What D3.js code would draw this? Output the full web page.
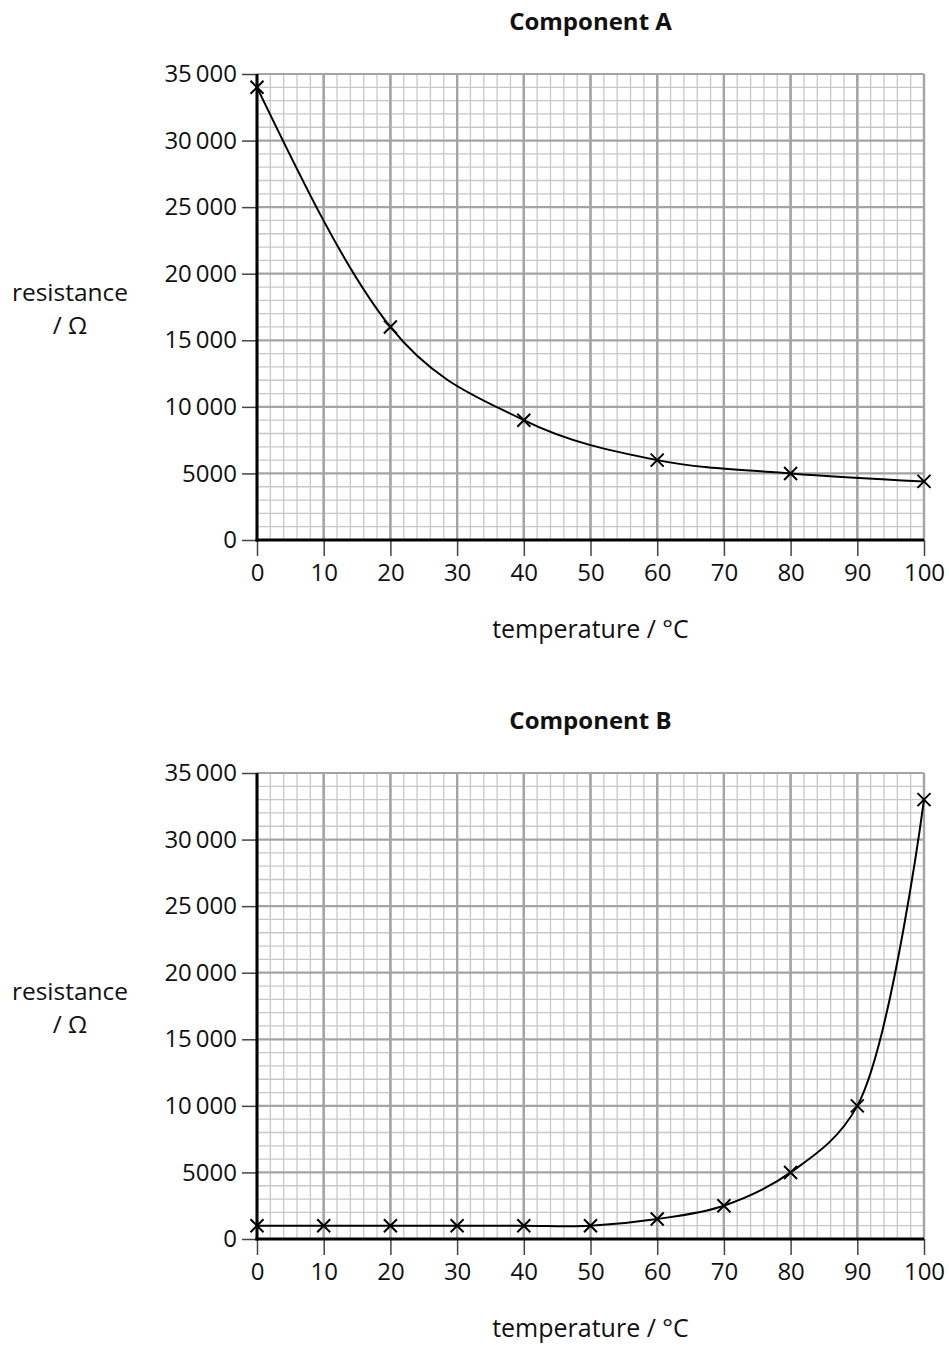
<!DOCTYPE html>
<html>
<head>
<meta charset="utf-8">
<script src="https://cdn.jsdelivr.net/npm/d3@7"></script>
<style>
  body { margin: 0; background: #fff; }
  svg text { font-family: "Open Sans", "Noto Sans", sans-serif; fill: #111; }
</style>
</head>
<body>
<div id="chart"></div>
<script>
// temperatures and resistances
const tempA = [0, 20, 40, 60, 80, 100];
const resA = [34000, 16000, 9000, 6000, 5000, 4400];

const tempB = [0, 10, 20, 30, 40, 50, 60, 70, 80, 90, 100];
const resB = [1000, 1000, 1000, 1000, 1000, 1000, 1500, 2500, 5000, 10000, 33000];

const xTicks = [0, 10, 20, 30, 40, 50, 60, 70, 80, 90, 100];
const yTicks = [0, 5000, 10000, 15000, 20000, 25000, 30000, 35000];

const W = 949, H = 1345;
const margin = { left: 257, right: 25 };
const plotH = 466;

const svg = d3.select("#chart")
    .append("svg")
    .attr("width", W)
    .attr("height", H);

const x = d3.scaleLinear()
    .domain([0, 100])
    .range([margin.left, W - margin.right]);

// space in thousands like the printed paper
const fmt = v => v >= 10000 ? d3.format("d")(v).replace(/(\d{3})$/, "\u2006$1") : String(v);

function drawPanel(top, title, temps, res, curve) {
    const g = svg.append("g");
    const y = d3.scaleLinear()
        .domain([0, 35000])
        .range([top + plotH, top]);

    // graph paper: minor lines then major lines
    const grid = g.append("g");
    grid.selectAll(".vmin")
        .data(d3.range(0, 101, 2))
        .enter().append("line")
        .attr("x1", d => x(d)).attr("x2", d => x(d))
        .attr("y1", y(0)).attr("y2", y(35000))
        .attr("stroke", d => d % 10 === 0 ? "#a4a4a4" : "#c8c8c8")
        .attr("stroke-width", d => d % 10 === 0 ? 2.2 : 1.3);

    grid.selectAll(".hmin")
        .data(d3.range(0, 35001, 1000))
        .enter().append("line")
        .attr("x1", x(0)).attr("x2", x(100))
        .attr("y1", d => y(d)).attr("y2", d => y(d))
        .attr("stroke", d => d % 5000 === 0 ? "#a4a4a4" : "#c8c8c8")
        .attr("stroke-width", d => d % 5000 === 0 ? 2.2 : 1.3);

    // redraw majors on top so they stay darker
    grid.selectAll(".vmaj")
        .data(xTicks)
        .enter().append("line")
        .attr("x1", d => x(d)).attr("x2", d => x(d))
        .attr("y1", y(0)).attr("y2", y(35000))
        .attr("stroke", "#a4a4a4")
        .attr("stroke-width", 2.2);

    // axes
    const xAxis = g.append("g")
        .attr("transform", `translate(0,${y(0)})`)
        .call(d3.axisBottom(x).tickValues(xTicks).tickSize(16).tickPadding(8));
    xAxis.select(".domain").remove();
    xAxis.selectAll("line").attr("stroke", "#444").attr("stroke-width", 1.5);
    xAxis.selectAll("text")
        .style("font-size", "24px")
        .attr("fill", "#111");

    const yAxis = g.append("g")
        .attr("transform", `translate(${x(0)},0)`)
        .call(d3.axisLeft(y).tickValues(yTicks).tickSize(15).tickPadding(5).tickFormat(fmt));
    yAxis.select(".domain").remove();
    yAxis.selectAll("line").attr("stroke", "#444").attr("stroke-width", 1.5);
    yAxis.selectAll("text")
        .style("font-size", "24px")
        .attr("fill", "#111");

    g.append("line")
        .attr("x1", x(0)).attr("x2", x(0))
        .attr("y1", y(35000)).attr("y2", y(0) + 1.5)
        .attr("stroke", "#000").attr("stroke-width", 3);
    g.append("line")
        .attr("x1", x(0) - 1.5).attr("x2", x(100))
        .attr("y1", y(0)).attr("y2", y(0))
        .attr("stroke", "#000").attr("stroke-width", 3);

    const pts = temps.map((t, i) => ({ t: t, r: res[i] }));

    const line = d3.line()
        .x(d => x(d.t))
        .y(d => y(d.r))
        .curve(curve);

    g.append("path")
        .datum(pts)
        .attr("fill", "none")
        .attr("stroke", "#000")
        .attr("stroke-width", 2)
        .attr("d", line);

    const s = 6.5;
    g.selectAll(".pt")
        .data(pts)
        .enter().append("path")
        .attr("d", d => {
            const cx = x(d.t), cy = y(d.r);
            return `M${cx - s},${cy - s}L${cx + s},${cy + s}M${cx - s},${cy + s}L${cx + s},${cy - s}`;
        })
        .attr("stroke", "#000")
        .attr("stroke-width", 2);

    // labels
    g.append("text")
        .attr("x", x(50))
        .attr("y", top - 44)
        .attr("text-anchor", "middle")
        .style("font-size", "24px")
        .style("font-weight", "bold")
        .text(title);

    g.append("text")
        .attr("x", x(50))
        .attr("y", y(0) + 98)
        .attr("text-anchor", "middle")
        .style("font-size", "25px")
        .text("temperature / °C");

    g.append("text")
        .attr("x", 70)
        .attr("y", top + 227)
        .attr("text-anchor", "middle")
        .style("font-size", "24.5px")
        .text("resistance");
    g.append("text")
        .attr("x", 70)
        .attr("y", top + 260)
        .attr("text-anchor", "middle")
        .style("font-size", "24.5px")
        .text("/ Ω");
}

drawPanel(74, "Component A", tempA, resA, d3.curveMonotoneX);
drawPanel(773, "Component B", tempB, resB, d3.curveCatmullRom.alpha(0.5));
</script>
</body>
</html>
